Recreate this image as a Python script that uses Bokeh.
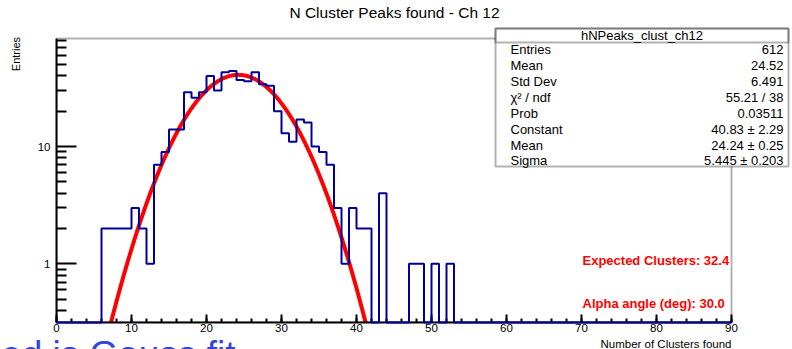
import numpy as np
from bokeh.plotting import figure
from bokeh.layouts import column, row
from bokeh.models import (Range1d, LinearAxis, LogAxis, FixedTicker,
                          BasicTickFormatter, Label, BoxAnnotation)
from bokeh.embed import file_html
from bokeh.resources import INLINE

# ---------------- data ----------------
x_min, x_max = 0, 90
bin_width = 1
counts = ([0] * 6 +
          [2, 2, 2, 2, 3, 2, 1, 7, 9, 14, 14, 29, 26, 29, 40, 30, 43, 44, 37, 36,
           43, 34, 33, 20, 13, 11, 17, 16, 10, 9, 7, 3, 1, 3, 2, 2, 0, 4, 0, 0,
           0, 1, 1, 0, 1, 0, 1] +
          [0] * 37)
x_ticks = [0, 10, 20, 30, 40, 50, 60, 70, 80, 90]
x_minor_ticks = list(range(0, 91, 2))
y_ticks = [1, 10]
y_minor_ticks = [0.4, 0.5, 0.6, 0.7, 0.8, 0.9, 2, 3, 4, 5, 6, 7, 8, 9,
                 20, 30, 40, 50, 60, 70, 80]

# fit parameters (as printed in the stats box)
fit_constant = 40.83
fit_mean = 24.24
fit_sigma = 5.445

stats_title = "hNPeaks_clust_ch12"
stats_names = ["Entries", "Mean", "Std Dev", "\u03c7\u00b2 / ndf", "Prob",
               "Constant", "Mean", "Sigma"]
stats_values = ["612", "24.52", "6.491", "55.21 / 38", "0.03511",
                "40.83 \u00b1 2.29", "24.24 \u00b1 0.25", "5.445 \u00b1 0.203"]

title_text = "N Cluster Peaks found - Ch 12"
x_title = "Number of Clusters found"
y_title = "Entries"
note1 = "Expected Clusters: 32.4"
note2 = "Alpha angle (deg): 30.0"
note3 = "used is Gauss fit"

# ---------------- layout (pixels of the 792x349 page) ----------------
W, H = 792, 349
LEFT_W = 26            # left strip holding the y title
MAIN_H = 336           # main figure height
FL, FR, FT, FB = 56, 731, 38, 322   # ROOT frame in page pixels
y_lo = 10 ** -0.5
y_hi = 10 ** 1.921
PX_PER_X = (FR - FL) / (x_max - x_min)
PX_PER_DEC = (FB - FT) / (np.log10(y_hi) - np.log10(y_lo))
FONT = "Liberation Sans"


def xd(px):
    return x_min + (px - FL) / PX_PER_X


def yd(py):
    return 10 ** (np.log10(y_lo) + (FB - py) / PX_PER_DEC)


def clean(fig):
    fig.outline_line_color = None
    fig.grid.visible = False
    fig.background_fill_color = "white"
    fig.border_fill_color = "white"


# main figure: frame from x=56 to the right page edge, y=0 to y=322
p = figure(width=W - LEFT_W, height=MAIN_H,
           x_range=Range1d(xd(FL), xd(W)), y_range=Range1d(yd(FB), yd(0)),
           y_axis_type="log", x_axis_location=None, y_axis_location=None,
           output_backend="svg", toolbar_location=None,
           min_border_left=FL - LEFT_W, min_border_right=0,
           min_border_top=0, min_border_bottom=MAIN_H - FB)
clean(p)

xaxis = LinearAxis(ticker=FixedTicker(ticks=x_ticks, minor_ticks=x_minor_ticks),
                   bounds=(x_min, x_max))
yaxis = LogAxis(ticker=FixedTicker(ticks=y_ticks, minor_ticks=y_minor_ticks),
                formatter=BasicTickFormatter(), bounds=(y_lo, y_hi))
for ax, mj, mn in ((xaxis, 8, 4), (yaxis, 20, 10)):
    ax.axis_line_width = 2
    ax.axis_line_color = "black"
    ax.major_tick_in = mj
    ax.major_tick_out = 0
    ax.minor_tick_in = mn
    ax.minor_tick_out = 0
    ax.major_tick_line_width = 2
    ax.minor_tick_line_width = 2
    ax.major_tick_line_color = "black"
    ax.minor_tick_line_color = "black"
    ax.major_label_text_font = FONT
    ax.major_label_text_font_size = "11.5px"
    ax.major_label_text_color = "black"
xaxis.major_label_standoff = 1
yaxis.major_label_standoff = 6
p.add_layout(xaxis, "below")
p.add_layout(yaxis, "left")

# ROOT frame box
p.add_layout(BoxAnnotation(left=x_min, right=x_max, bottom=y_lo, top=y_hi,
                           fill_alpha=0.0, line_color="black", line_width=2))

# histogram outline
edges = [x_min + i * bin_width for i in range(len(counts) + 1)]
hvals = [c if c > 0 else y_lo for c in counts]
hvals = hvals + [hvals[-1]]
p.step(edges, hvals, mode="after", line_color="#000099", line_width=2,
       level="overlay")

# gaussian fit curve (clipped to the frame)
xf = np.linspace(x_min, x_max, 1801)
yf = fit_constant * np.exp(-0.5 * ((xf - fit_mean) / fit_sigma) ** 2)
yf = np.maximum(yf, y_lo * 0.5)
p.line(xf, yf, line_color="#ff0000", line_width=4)

# title
p.add_layout(Label(x=xd(394), y=yd(12), text=title_text, text_align="center",
                   text_baseline="middle", text_font=FONT,
                   text_font_size="15.5px", text_color="black"))

# stats box
BL, BR, BT, BB, BS = 495, 788, 28, 166, 42
p.add_layout(BoxAnnotation(left=xd(BL), right=xd(BR), top=yd(BT), bottom=yd(BB),
                           fill_color="white", fill_alpha=1.0,
                           line_color="black", line_width=2))
p.add_layout(BoxAnnotation(left=xd(BL), right=xd(BR), top=yd(BT), bottom=yd(BS),
                           fill_alpha=0.0, line_color="black", line_width=2))
p.add_layout(Label(x=xd((BL + BR) / 2), y=yd(35), text=stats_title,
                   text_align="center", text_baseline="middle", text_font=FONT,
                   text_font_size="13px", text_color="black"))
row_y = [49.3, 65, 81, 96.5, 113, 129, 144.5, 159.5]
for name, val, ry in zip(stats_names, stats_values, row_y):
    p.add_layout(Label(x=xd(510), y=yd(ry), text=name, text_align="left",
                       text_baseline="middle", text_font=FONT,
                       text_font_size="13px", text_color="black"))
    p.add_layout(Label(x=xd(783), y=yd(ry), text=val, text_align="right",
                       text_baseline="middle", text_font=FONT,
                       text_font_size="13px", text_color="black"))

# red notes
for txt, ny in ((note1, 259.5), (note2, 302.5)):
    p.add_layout(Label(x=xd(582), y=yd(ny), text=txt, text_align="left",
                       text_baseline="middle", text_font=FONT,
                       text_font_style="bold", text_font_size="13px",
                       text_color="#ff0000"))

# left strip with the y title (data units = page pixels)
pl = figure(width=LEFT_W, height=MAIN_H, x_range=Range1d(0, LEFT_W),
            y_range=Range1d(MAIN_H, 0), x_axis_location=None,
            y_axis_location=None, output_backend="svg", toolbar_location=None,
            min_border=0)
clean(pl)
pl.add_layout(Label(x=15, y=38, text=y_title, text_align="right",
                    text_baseline="middle", angle=np.pi / 2, text_font=FONT,
                    text_font_size="11px", text_color="black"))

# bottom strip with the x title and the cut blue text (data units = page pixels)
pb = figure(width=W, height=H - MAIN_H, x_range=Range1d(0, W),
            y_range=Range1d(H, MAIN_H), x_axis_location=None,
            y_axis_location=None, output_backend="svg", toolbar_location=None,
            min_border=0)
clean(pb)
pb.add_layout(Label(x=731, y=343, text=x_title, text_align="right",
                    text_baseline="middle", text_font=FONT,
                    text_font_size="11.5px", text_color="black"))
pb.add_layout(Label(x=235, y=354, text=note3, text_align="right",
                    text_baseline="alphabetic", text_font=FONT,
                    text_font_size="37px", text_color="#3344dd"))

layout = column(row(pl, p, spacing=0), pb, spacing=0)
open("out.html", "w").write(file_html(layout, INLINE))
